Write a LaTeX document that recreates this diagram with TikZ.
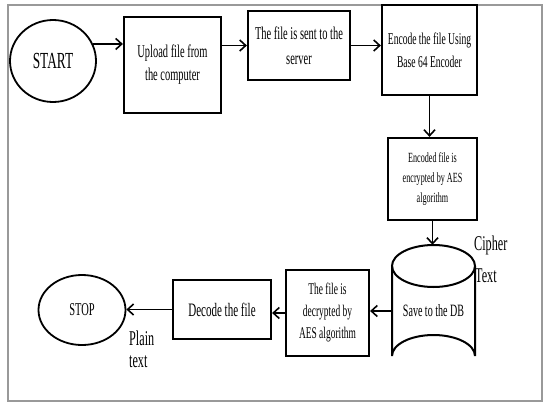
\documentclass[tikz,border=0pt]{standalone}
\usepackage{fontspec}
\setmainfont{Liberation Serif}[FakeStretch=0.58]
\usetikzlibrary{arrows.meta,shapes.geometric}
\begin{document}
\begin{tikzpicture}[x=1pt,y=-1pt,
  flowbox/.style={draw,line width=2.2pt,align=center,inner sep=0pt},
  term/.style={draw,ellipse,line width=1.8pt,inner sep=0pt},
  flow/.style={line width=1.8pt,-{Straight Barb[length=6pt,width=11pt,line width=1.6pt]}},
  tag/.style={anchor=west,inner sep=0pt,font=\fontsize{21}{24}\selectfont}]
\useasboundingbox (0,0) rectangle (544,402);
% outer frame
\draw[line width=1.6pt,black!40] (8,5) rectangle (542,401);

% terminals
\node[term,minimum width=86pt,minimum height=82pt,font=\fontsize{23}{26}\selectfont] (start) at (53,61) {START};
\node[term,minimum width=87pt,minimum height=70pt,font=\fontsize{18}{20}\selectfont] (stop) at (82,310) {STOP};

% process boxes
\node[flowbox,minimum width=97pt,minimum height=96pt,font=\fontsize{18}{23}\selectfont] (upload) at (172.5,65) {Upload file from\\the computer};
\node[flowbox,minimum width=102pt,minimum height=69pt,font=\fontsize{18}{25}\selectfont] (server) at (299,45.5) {The file is sent to the\\server};
\node[flowbox,minimum width=95pt,minimum height=90pt,font=\fontsize{16.5}{23}\selectfont] (encode) at (429.5,50) {Encode the file Using\\Base 64 Encoder};
\node[flowbox,minimum width=89pt,minimum height=82pt,font=\fontsize{14}{20}\selectfont] (encrypt) at (432.5,179) {Encoded file is\\encrypted by AES\\algorithm};
\node[flowbox,minimum width=83pt,minimum height=86pt,font=\fontsize{16.3}{22}\selectfont] (decrypt) at (327.5,313) {The file is\\decrypted by\\AES algorithm};
\node[flowbox,minimum width=98pt,minimum height=59pt,font=\fontsize{19}{22}\selectfont] (decode) at (222,309.5) {Decode the file};

% database cylinder
\node[minimum width=83pt,minimum height=132pt,inner sep=0pt,font=\fontsize{17.3}{20}\selectfont] (db) at (433.5,311) {Save to the DB};
\draw[line width=2pt]
  (392,266) -- (392,356) arc[start angle=180,end angle=360,x radius=41.5pt,y radius=-21pt] -- (475,266);
\draw[line width=2pt] (433.5,266) ellipse[x radius=41.5pt,y radius=21pt];

% side labels
\node[tag] (ciph1) at (474,245) {Cipher};
\node[tag] (ciph2) at (475,276) {Text};
\node[tag] (plain1) at (129,338) {Plain};
\node[tag] (plain2) at (129,362) {text};

% connectors
\draw[flow] (start.23) -- (start.23 -| upload.west);
\draw[flow] (upload.east |- server.west) -- (server.west);
\draw[flow] (server.east) -- (server.east -| encode.west);
\draw[flow] (encode.south) -- (encode.south |- encrypt.north);
\draw[flow] (encrypt.south) -- (encrypt.south |- db.north);
\draw[flow] (db.west) -- (db.west -| decrypt.east);
\draw[flow] (decrypt.west) -- (decrypt.west -| decode.east);
\draw[flow] (decode.west) -- (decode.west -| stop.east);
\end{tikzpicture}
\end{document}
